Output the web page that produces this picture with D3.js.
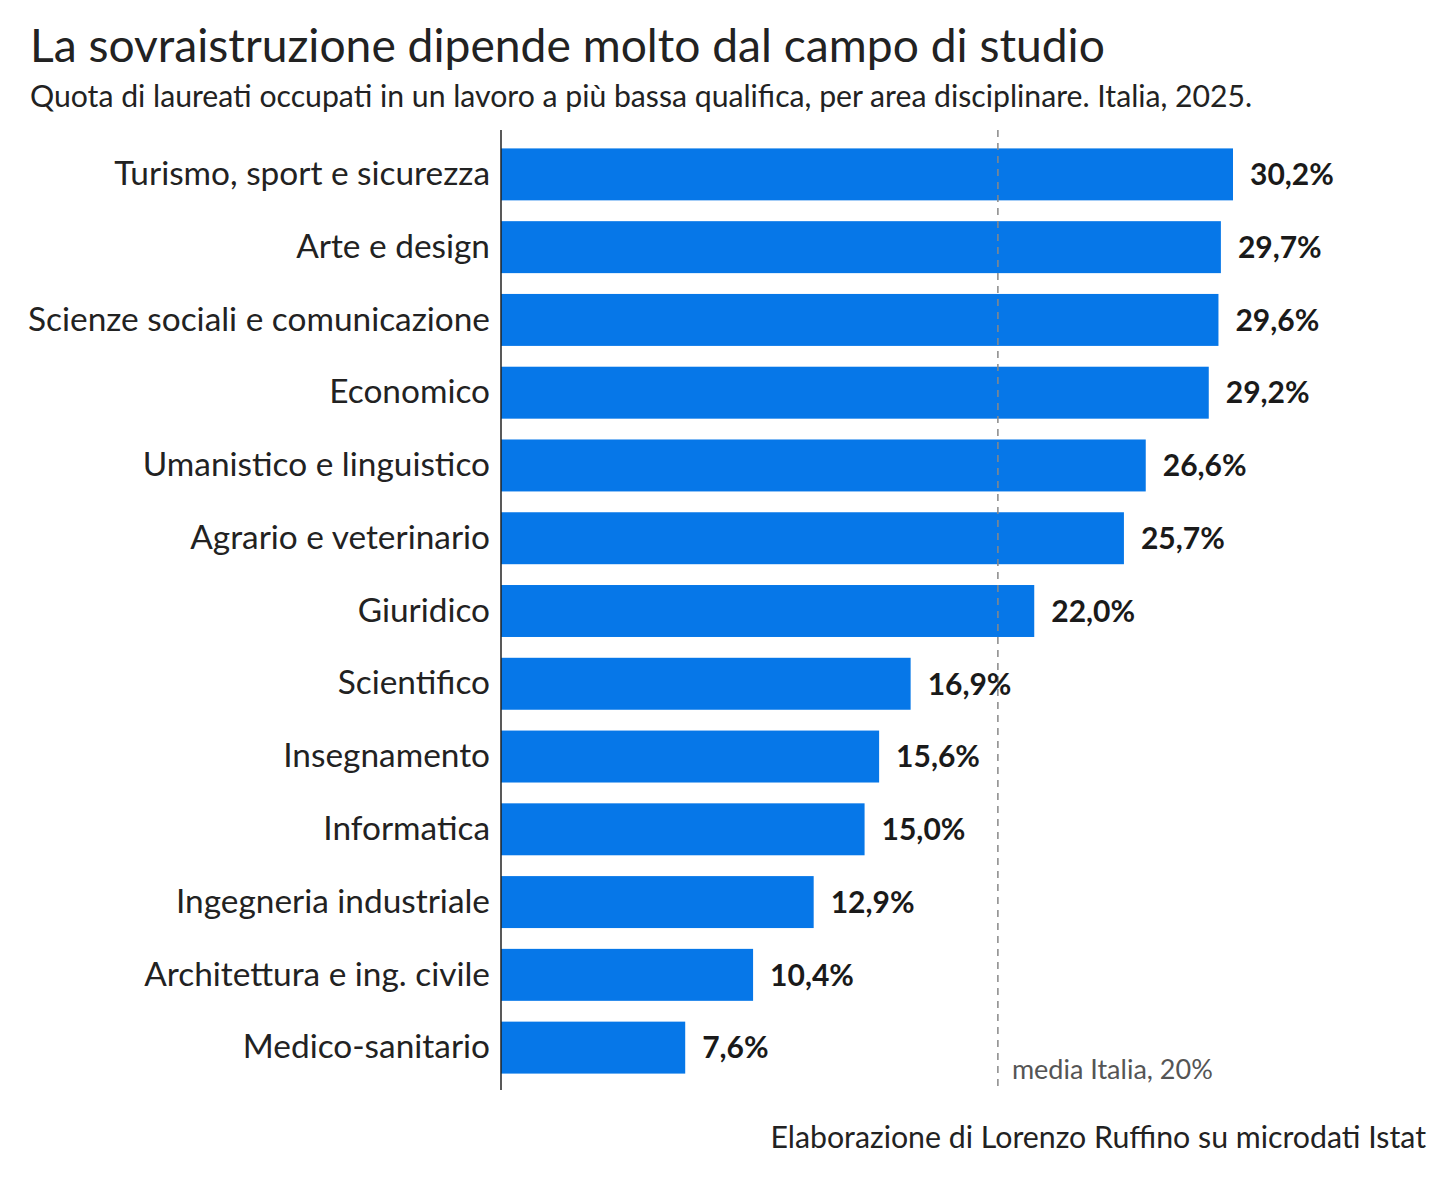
<!DOCTYPE html>
<html>
<head>
<meta charset="utf-8">
<script src="https://cdn.jsdelivr.net/npm/d3@7"></script>
<style>
  body { margin: 0; background: #fff; }
  text { font-family: Lato, "Noto Sans", sans-serif; }
</style>
</head>
<body>
<div id="chart"></div>
<script>
!(function () {
  // - - - - - - - - - -

  const categories = [
    'Turismo, sport e sicurezza',
    'Arte e design',
    'Scienze sociali e comunicazione',
    'Economico',
    'Umanistico e linguistico',
    'Agrario e veterinario',
    'Giuridico',
    'Scientifico',
    'Insegnamento',
    'Informatica',
    'Ingegneria industriale',
    'Architettura e ing. civile',
    'Medico-sanitario'
  ];
  const values = [30.2, 29.7, 29.6, 29.2, 26.6, 25.7, 22.0, 16.9, 15.6, 15.0, 12.9, 10.4, 7.6];
  const mediaValue = 20.5;
  const mediaLabel = 'media Italia, 20%';

  const title = 'La sovraistruzione dipende molto dal campo di studio';
  const subtitle = 'Quota di laureati occupati in un lavoro a più bassa qualifica, per area disciplinare. Italia, 2025.';
  const source = 'Elaborazione di Lorenzo Ruffino su microdati Istat';

  let
    width = 1456,
    height = 1183,
    x0 = 501,
    xScale = d3.scaleLinear()
      .domain([0, 30.2])
      .range([x0, 1233]),
    yScale = d3.scaleBand()
      .domain(categories)
      .range([138, 1084])
      .paddingInner(0.286)
      .paddingOuter(0.143),
    fmt = function (v) { return d3.format('.1f')(v).replace('.', ',') + '%'; };

  const svg = d3.select('#chart')
    .append('svg')
    .attr('width', width)
    .attr('height', height)
    .attr('viewBox', '0 0 ' + width + ' ' + height);

  // titles
  svg.append('text')
    .attr('x', 30).attr('y', 62)
    .style('font-size', '46.2px')
    .style('fill', '#222')
    .text(title);

  svg.append('text')
    .attr('x', 30).attr('y', 107)
    .style('font-size', '30.2px')
    .style('fill', '#222')
    .text(subtitle);

  // bars
  svg.selectAll('rect.bar')
    .data(values)
    .enter()
    .append('rect')
    .attr('class', 'bar')
    .attr('x', x0)
    .attr('y', function (d, i) { return yScale(categories[i]); })
    .attr('width', function (d) { return xScale(d) - x0; })
    .attr('height', yScale.bandwidth())
    .style('fill', '#0677e8');

  // media line
  svg.append('line')
    .attr('x1', xScale(mediaValue)).attr('x2', xScale(mediaValue))
    .attr('y1', 130).attr('y2', 1090)
    .style('stroke', '#888')
    .style('stroke-width', 1.5)
    .style('stroke-dasharray', '7,6');

  svg.append('text')
    .attr('x', xScale(mediaValue) + 14).attr('y', 1079)
    .style('font-size', '27px')
    .style('fill', '#555')
    .text(mediaLabel);

  // value labels
  svg.selectAll('text.val')
    .data(values)
    .enter()
    .append('text')
    .attr('class', 'val')
    .attr('x', function (d) { return xScale(d) + 17; })
    .attr('y', function (d, i) { return yScale(categories[i]) + yScale.bandwidth() / 2; })
    .attr('dy', '0.36em')
    .style('font-size', '30px')
    .style('font-weight', 'bold')
    .style('fill', '#1a1a1a')
    .text(fmt);

  // y axis
  const yAxis = svg.append('g')
    .attr('transform', 'translate(' + x0 + ',0)')
    .call(d3.axisLeft(yScale).tickSize(0).tickPadding(11));
  yAxis.select('.domain').remove();
  yAxis.selectAll('text')
    .style('font-family', 'Lato, "Noto Sans", sans-serif')
    .style('font-size', '33.4px')
    .style('fill', '#222');

  svg.append('line')
    .attr('x1', x0).attr('x2', x0)
    .attr('y1', 130).attr('y2', 1090)
    .style('stroke', '#222')
    .style('stroke-width', 1.5);

  // source
  svg.append('text')
    .attr('x', 1426).attr('y', 1148)
    .attr('text-anchor', 'end')
    .style('font-size', '30.3px')
    .style('fill', '#222')
    .text(source);

  // - - - - - - - - - -
}());
</script>
</body>
</html>
